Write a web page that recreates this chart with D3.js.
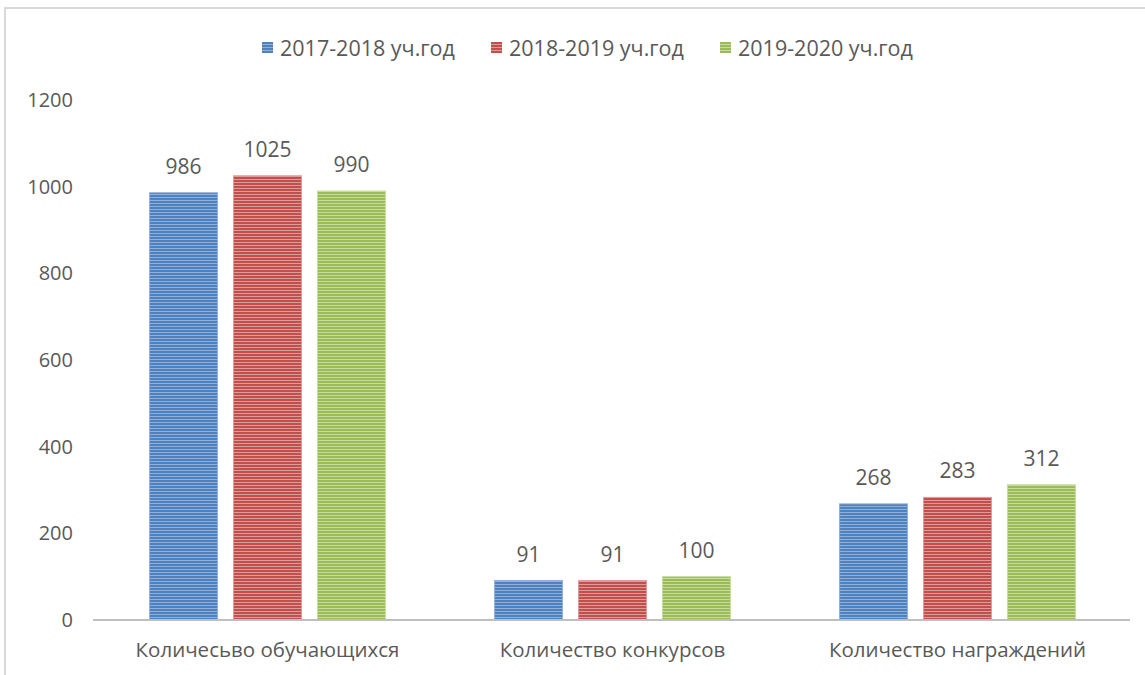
<!DOCTYPE html>
<html>
<head>
<meta charset="utf-8">
<script src="https://cdn.jsdelivr.net/npm/d3@7"></script>
<style>
  body { margin: 0; background: #fff; }
  text { font-family: "Open Sans", "Noto Sans", sans-serif; fill: #595959; }
</style>
</head>
<body>
<div id="chart"></div>
<script>
// данные диаграммы
const categories = ["Количесьво обучающихся", "Количество конкурсов", "Количество награждений"];
const seriesNames = ["2017-2018 уч.год", "2018-2019 уч.год", "2019-2020 уч.год"];
const values2017 = [986, 91, 268];
const values2018 = [1025, 91, 283];
const values2019 = [990, 100, 312];
const yTicks = [0, 200, 400, 600, 800, 1000, 1200];

const seriesValues = [values2017, values2018, values2019];
const colors = ["#4f81bd", "#c0504d", "#9bbb59"];
const stripes = ["#8fb0dc", "#e09a98", "#c8dc9c"];

const width = 1145, height = 675;
const margin = { top: 100, right: 15, bottom: 55, left: 95 };

const svg = d3.select("#chart")
    .append("svg")
    .attr("width", width)
    .attr("height", height);

// рамка (видны только верх и левая сторона)
svg.append("path")
    .attr("d", `M5,${height} L5,8 L${width},8`)
    .attr("fill", "none")
    .attr("stroke", "#d9d9d9")
    .attr("stroke-width", 2);

// полосатые заливки
const defs = svg.append("defs");
colors.forEach((c, i) => {
    const p = defs.append("pattern")
        .attr("id", "stripe" + i)
        .attr("patternUnits", "userSpaceOnUse")
        .attr("width", 6)
        .attr("height", 3);
    p.append("rect").attr("width", 6).attr("height", 3).attr("fill", c);
    p.append("rect").attr("y", 2).attr("width", 6).attr("height", 1).attr("fill", stripes[i]);
});

const x0 = d3.scaleBand()
    .domain(categories)
    .range([margin.left, width - margin.right]);

const x1 = d3.scaleBand()
    .domain(seriesNames)
    .range([0, x0.bandwidth()])
    .paddingInner(0.19)
    .paddingOuter(0.65);

const y = d3.scaleLinear()
    .domain([0, 1200])
    .range([height - margin.bottom, margin.top]);

// ось Y (только подписи)
const yAxis = svg.append("g")
    .attr("transform", `translate(${margin.left - 22},0)`)
    .call(d3.axisLeft(y).tickValues(yTicks).tickFormat(d3.format("d")).tickSize(0).tickPadding(0));
yAxis.select(".domain").remove();
yAxis.selectAll("text")
    .style("font-size", "20px")
    .style("fill", "#595959");

// столбцы
const groups = svg.selectAll(".group")
    .data(categories)
    .enter()
    .append("g")
    .attr("transform", d => `translate(${x0(d)},0)`);

seriesNames.forEach((s, si) => {
    groups.append("rect")
        .attr("x", x1(s))
        .attr("y", (d, ci) => y(seriesValues[si][ci]))
        .attr("width", x1.bandwidth())
        .attr("height", (d, ci) => y(0) - y(seriesValues[si][ci]))
        .attr("fill", `url(#stripe${si})`)
        .attr("stroke", stripes[si])
        .attr("stroke-width", 1);

    groups.append("text")
        .attr("x", x1(s) + x1.bandwidth() / 2)
        .attr("y", (d, ci) => y(seriesValues[si][ci]) - 19)
        .attr("text-anchor", "middle")
        .style("font-size", "21px")
        .text((d, ci) => seriesValues[si][ci]);
});

// ось X
const xAxis = svg.append("g")
    .attr("transform", `translate(0,${y(0)})`)
    .call(d3.axisBottom(x0).tickSize(0).tickPadding(22));
xAxis.select(".domain")
    .attr("stroke", "#bfbfbf")
    .attr("stroke-width", 2)
    .attr("d", `M${margin.left - 2},0H${width - margin.right}`);
xAxis.selectAll("text")
    .style("font-size", "20.5px")
    .style("fill", "#595959");

// легенда
const legendX = [262, 491, 720];
const legend = svg.selectAll(".legend")
    .data(seriesNames)
    .enter()
    .append("g")
    .attr("transform", (d, i) => `translate(${legendX[i]},42)`);
legend.append("rect")
    .attr("width", 11)
    .attr("height", 11)
    .attr("fill", (d, i) => `url(#stripe${i})`);
legend.append("text")
    .attr("x", 18)
    .attr("y", 6)
    .attr("dy", "0.35em")
    .style("font-size", "21.5px")
    .text(d => d);
</script>
</body>
</html>
